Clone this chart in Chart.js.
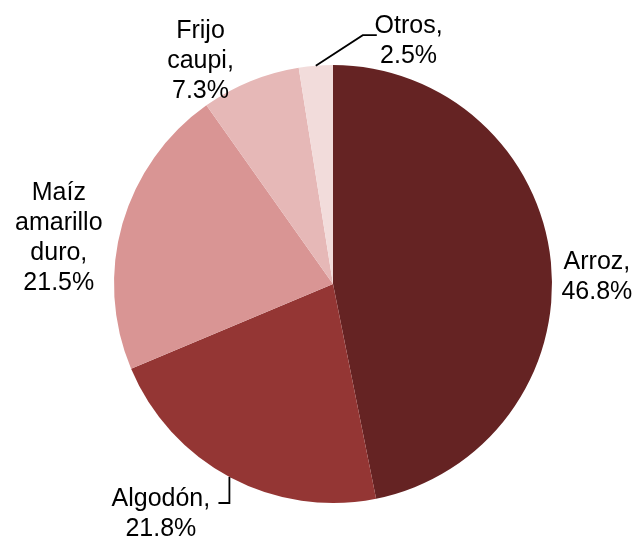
<!DOCTYPE html>
<html>
<head>
<meta charset="utf-8">
<script src="https://cdn.jsdelivr.net/npm/chart.js@4/dist/chart.umd.min.js"></script>
<style>
  html, body { margin: 0; padding: 0; background: #fff; }
  #wrap { width: 640px; height: 536px; }
</style>
</head>
<body>
<div id="wrap"><canvas id="chart" width="640" height="536"></canvas></div>
<script>
const categories = ["Arroz", "Algodón", "Maíz amarillo duro", "Frijo caupi", "Otros"]
const shares = [46.8, 21.8, 21.5, 7.3, 2.5]
const labelLines = [
  ["Arroz,", "46.8%"],
  ["Algodón,", "21.8%"],
  ["Maíz", "amarillo", "duro,", "21.5%"],
  ["Frijo", "caupi,", "7.3%"],
  ["Otros,", "2.5%"],
]
const colors = ["#652323", "#943634", "#D99594", "#E6B8B7", "#F2DCDB"]

// label centres, as fractions of the radius from the pie centre
const labelOffsets = [[1.205, -0.03], [-0.786, 1.05], [-1.252, -0.21], [-0.605, -1.02], [0.345, -1.11]]

const pieLabels = {
  id: "pieLabels",
  afterDraw(chart) {
    const ctx = chart.ctx
    const arcs = chart.getDatasetMeta(0).data
    const cx = arcs[0].x, cy = arcs[0].y, r = arcs[0].outerRadius
    const lh = 30
    ctx.save()
    ctx.font = "25px 'Liberation Sans', Arial, sans-serif"
    ctx.fillStyle = "#000"
    ctx.textAlign = "center"
    ctx.textBaseline = "middle"
    labelLines.forEach((lines, i) => {
      const x = cx + labelOffsets[i][0] * r
      const y0 = cy + labelOffsets[i][1] * r - (lines.length - 1) * lh / 2
      lines.forEach((t, j) => ctx.fillText(t, x, y0 + j * lh))
    })

    // leader lines
    ctx.strokeStyle = "#000"
    ctx.lineWidth = 1.8
    const a = (arcs[4].startAngle + arcs[4].endAngle) / 2
    // Otros
    ctx.beginPath()
    ctx.moveTo(cx + Math.cos(a) * r, cy + Math.sin(a) * r)
    ctx.lineTo(cx + 0.136 * r, cy - 1.136 * r)
    ctx.lineTo(cx + 0.2 * r, cy - 1.136 * r)
    ctx.stroke()
    // Algodón
    ctx.beginPath()
    ctx.moveTo(cx - 0.473 * r, cy + Math.sqrt(1 - 0.473 * 0.473) * r)
    ctx.lineTo(cx - 0.473 * r, cy + 1.0 * r)
    ctx.lineTo(cx - 0.523 * r, cy + 1.0 * r)
    ctx.stroke()
    ctx.restore()
  }
}

new Chart(document.getElementById("chart").getContext("2d"), {
  type: "pie",
  data: {
    labels: categories,
    datasets: [{
      data: shares,
      backgroundColor: colors,
      borderWidth: 0,
    }],
  },
  options: {
    responsive: false,
    animation: false,
    layout: { padding: { left: 113, right: 87, top: 65, bottom: 33 } },
    plugins: {
      legend: { display: false },
      tooltip: { enabled: false },
    },
  },
  plugins: [pieLabels],
})
</script>
</body>
</html>
